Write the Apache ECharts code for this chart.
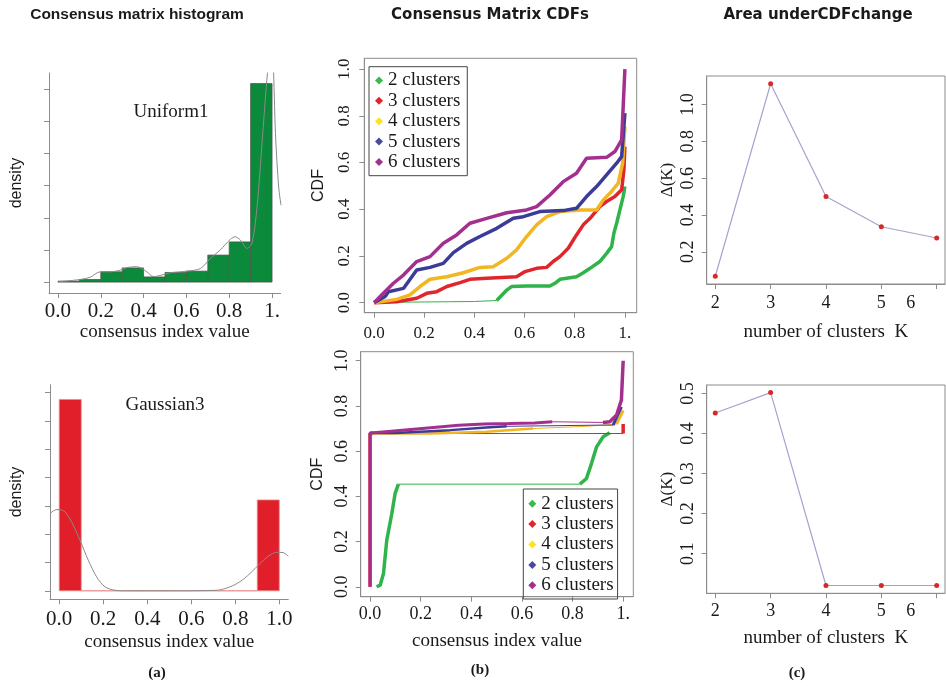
<!DOCTYPE html>
<html>
<head>
<meta charset="utf-8">
<script src="https://cdn.jsdelivr.net/npm/echarts@6/dist/echarts.min.js"></script>
<style>html,body{margin:0;background:#fff}#main{width:946px;height:686px}</style>
</head>
<body>
<div id="main"></div>
<script>
// ---- data ----
// histograms: [from, to, density]
let uniformBars = [[0.0,0.1,0.03],[0.1,0.2,0.08],[0.2,0.3,0.32],[0.3,0.4,0.44],[0.4,0.5,0.16],
  [0.5,0.6,0.30],[0.6,0.7,0.34],[0.7,0.8,0.84],[0.8,0.9,1.25],[0.9,1.0,6.18]];
let uniformDensity = [[0.0,0.01],[0.103,0.08],[0.15,0.15],[0.197,0.32],[0.243,0.32],[0.29,0.37],[0.321,0.45],
  [0.368,0.48],[0.415,0.32],[0.446,0.17],[0.485,0.22],[0.524,0.29],[0.602,0.34],[0.665,0.42],[0.711,0.73],
  [0.758,1.0],[0.805,1.33],[0.828,1.41],[0.852,1.31],[0.883,1.05],[0.906,1.2],[0.93,2.34],[0.953,4.31],
  [0.973,6.07],[0.984,6.9],[0.995,7.6],[1.005,6.9],[1.016,4.62],[1.031,2.96],[1.042,2.39]];
let gaussBars = [[0.0,0.1,6.76],[0.1,0.2,0],[0.2,0.3,0],[0.3,0.4,0],[0.4,0.5,0],
  [0.5,0.6,0],[0.6,0.7,0],[0.7,0.8,0],[0.8,0.9,0],[0.9,1.0,3.21]];
let gaussDensity = [[-0.042,2.73],[-0.02,2.85],[0.0,2.87],[0.026,2.79],[0.056,2.44],[0.094,1.79],[0.132,1.08],
  [0.17,0.49],[0.208,0.14],[0.253,0.02],[0.3,0],[0.5,0],[0.718,0.02],[0.776,0.14],[0.821,0.32],[0.867,0.61],
  [0.912,0.96],[0.95,1.22],[0.988,1.36],[1.018,1.35],[1.041,1.22]];

let clusterNames = ['2 clusters','3 clusters','4 clusters','5 clusters','6 clusters'];
let clusterColors = ['#2fb34a','#e0262c','#f3b623','#3b3b98','#a3308f'];
let legendColors = ['#3cb84c','#e0262c','#ffe21a','#4a4aa0','#a3308f'];

// CDFs, Uniform1 (thin = sparse part drawn as a thin line)
let uniK2thin = [[0,0],[0.1,0.002],[0.2,0.003],[0.3,0.004],[0.4,0.005],[0.489,0.009]];
let uniK2 = [[0.489,0.009],[0.529,0.054],[0.548,0.069],[0.608,0.071],[0.701,0.071],[0.721,0.083],[0.741,0.10],
  [0.807,0.111],[0.834,0.128],[0.861,0.147],[0.90,0.176],[0.927,0.211],[0.947,0.24],[0.956,0.297],
  [0.967,0.34],[0.98,0.397],[0.993,0.454],[1.0,0.497]];
let uniK3 = [[0,0],[0.09,0.004],[0.17,0.019],[0.21,0.04],[0.25,0.047],[0.29,0.069],[0.343,0.086],[0.382,0.10],
  [0.449,0.104],[0.568,0.111],[0.602,0.133],[0.648,0.147],[0.688,0.151],[0.714,0.176],[0.741,0.197],
  [0.774,0.233],[0.807,0.29],[0.834,0.333],[0.861,0.361],[0.90,0.411],[0.927,0.433],[0.96,0.454],
  [0.987,0.483],[0.996,0.568],[1.0,0.668]];
let uniK4 = [[0,0],[0.09,0.014],[0.143,0.033],[0.183,0.069],[0.223,0.10],[0.29,0.111],[0.356,0.128],
  [0.422,0.151],[0.475,0.154],[0.529,0.19],[0.568,0.226],[0.608,0.283],[0.648,0.333],[0.688,0.368],
  [0.741,0.39],[0.821,0.397],[0.887,0.397],[0.914,0.44],[0.94,0.468],[0.973,0.511],[0.991,0.597],[1.0,0.754]];
let uniK5 = [[0,0],[0.044,0.026],[0.057,0.047],[0.117,0.061],[0.17,0.14],[0.223,0.151],[0.276,0.168],
  [0.316,0.214],[0.369,0.254],[0.422,0.283],[0.489,0.318],[0.555,0.361],[0.595,0.368],[0.661,0.39],
  [0.754,0.394],[0.807,0.404],[0.847,0.454],[0.887,0.497],[0.927,0.547],[0.967,0.597],[0.987,0.625],[1.0,0.811]];
let uniK6 = [[0,0],[0.037,0.04],[0.077,0.083],[0.117,0.118],[0.17,0.176],[0.223,0.197],[0.276,0.254],
  [0.329,0.29],[0.382,0.34],[0.449,0.361],[0.529,0.385],[0.608,0.397],[0.648,0.411],[0.701,0.461],
  [0.754,0.518],[0.807,0.554],[0.847,0.618],[0.927,0.622],[0.96,0.647],[0.987,0.697],[1.0,1.0]];

// CDFs, Gaussian3
let gauK2 = [[0.026,0],[0.04,0.007],[0.053,0.059],[0.066,0.206],[0.086,0.324],[0.099,0.413],[0.112,0.454]];
let gauK2thin = [[0.112,0.454],[0.829,0.454]];
let gauK2b = [[0.829,0.454],[0.855,0.479],[0.875,0.546],[0.895,0.619],[0.921,0.664],[0.947,0.681]];
let gauK3thin = [[0,0.678],[1.0,0.678]];
let gauK3 = [[0,0],[0,0.678],[0.01,0.678]];
let gauK3b = [[1.0,0.678],[1.0,0.72]];
let gauK4 = [[0,0.678],[0.237,0.678],[0.46,0.686],[0.645,0.70]];
let gauK4thin = [[0.645,0.70],[0.855,0.71],[0.974,0.72]];
let gauK4b = [[0.974,0.72],[1.0,0.78]];
let gauK5 = [[0,0.68],[0.1,0.68],[0.316,0.693],[0.46,0.705],[0.54,0.71]];
let gauK5thin = [[0.54,0.71],[0.9,0.715],[0.96,0.715]];
let gauK5b = [[0.96,0.715],[0.993,0.796]];
let gauK6 = [[0,0],[0,0.68],[0.05,0.685],[0.15,0.695],[0.25,0.705],[0.35,0.715],[0.45,0.72],[0.55,0.722],
  [0.65,0.725],[0.72,0.73]];
let gauK6thin = [[0.72,0.73],[0.92,0.727]];
let gauK6b = [[0.92,0.727],[0.947,0.73],[0.974,0.76],[0.993,0.826],[1.0,1.0]];

// delta area
let kValues = [2,3,4,5,6];
let deltaUniform = [0.067,1.113,0.50,0.336,0.275];
let deltaGauss = [0.451,0.502,0.0205,0.0205,0.0205];

let unitTicks = [0,0.2,0.4,0.6,0.8,1.0];
let unitLabelsCut = ['0.0','0.2','0.4','0.6','0.8','1.'];
let unitLabels = ['0.0','0.2','0.4','0.6','0.8','1.0'];
let histTicksTop = [0,1,2,3,4,5,6];
let histTicksBottom = [0,1,2,3,4,5,6,7];
let deltaTicksTop = [0.2,0.4,0.6,0.8,1.0];
let deltaTicksBottom = [0.1,0.2,0.3,0.4,0.5];

const SERIF = 'Liberation Serif';
const AX = '#8c8c8c';

function pick(ticks, labels) {
  return function (v) {
    for (let i = 0; i < ticks.length; i++) if (Math.abs(ticks[i] - v) < 1e-6) return labels[i];
    return '';
  };
}

function axis(o) {
  let a = {
    gridIndex: o.grid, type: 'value', min: o.min, max: o.max,
    splitLine: {show: false},
    axisLine: {show: true, onZero: false, lineStyle: {color: AX, width: 1}},
    axisTick: {show: true, customValues: o.ticks, length: 5, lineStyle: {color: AX}},
    axisLabel: {show: o.labels != null, customValues: o.ticks, margin: o.margin,
      fontFamily: SERIF, fontSize: o.size, color: '#1a1a1a', rotate: o.rotate || 0,
      formatter: o.labels ? (o.fmt || pick(o.ticks, o.labels)) : null, rich: o.rich},
    name: o.name, nameLocation: 'middle', nameGap: o.gap,
    nameTextStyle: {fontFamily: o.nameFont || SERIF, fontSize: o.nameSize || 19, color: '#1a1a1a'}
  };
  return a;
}

function bars(params, api) {
  let p0 = api.coord([api.value(0), api.value(2)]);
  let p1 = api.coord([api.value(1), 0]);
  return {type: 'rect', shape: {x: p0[0], y: p0[1], width: p1[0] - p0[0], height: p1[1] - p0[1]},
    style: api.style()};
}

function cdf(name, idx, grid, data, width) {
  return {name: name, type: 'line', xAxisIndex: grid, yAxisIndex: grid, data: data,
    showSymbol: false, symbol: 'none', smooth: false, animation: false,
    lineStyle: {color: clusterColors[idx], width: width}, itemStyle: {color: clusterColors[idx]}};
}

function legendData() {
  return clusterNames.map(function (n, i) {
    return {name: n, icon: 'diamond', itemStyle: {color: legendColors[i]}};
  });
}

let legendBase = {orient: 'vertical', itemWidth: 8, itemHeight: 8, itemGap: 1, selectedMode: false,
  borderColor: '#444', borderWidth: 1,
  textStyle: {fontFamily: SERIF, fontSize: 19, color: '#1a1a1a', lineHeight: 19.4}};

function txt(x, y, s, font, size, weight) {
  return {type: 'text', x: x, y: y, style: {text: s, font: (weight || '') + ' ' + size + 'px "' + font + '"',
    fill: '#1a1a1a', textAlign: 'center', textVerticalAlign: 'middle'}};
}

let option = {
  animation: false,
  grid: [
    {left: 49, top: 73, width: 231.6, height: 220, outerBoundsMode: 'none'},
    {left: 50, top: 384.7, width: 238.3, height: 214.6, outerBoundsMode: 'none'},
    {left: 364.3, top: 58.3, width: 272.4, height: 254.4, show: true, borderColor: AX, borderWidth: 1, outerBoundsMode: 'none'},
    {left: 360.7, top: 351.7, width: 272.6, height: 245, show: true, borderColor: AX, borderWidth: 1, outerBoundsMode: 'none'},
    {left: 706.7, top: 76, width: 238.3, height: 208, show: true, borderColor: AX, borderWidth: 1, outerBoundsMode: 'none'},
    {left: 706.7, top: 385, width: 238.3, height: 208.3, show: true, borderColor: AX, borderWidth: 1, outerBoundsMode: 'none'}
  ],
  xAxis: [
    axis({grid: 0, min: -0.042, max: 1.04, ticks: unitTicks, labels: unitLabelsCut, size: 21, margin: 8,
      name: 'consensus index value', gap: 30}),
    axis({grid: 1, min: -0.042, max: 1.041, ticks: unitTicks, labels: unitLabels, size: 21, margin: 10,
      name: 'consensus index value', gap: 33}),
    axis({grid: 2, min: -0.039, max: 1.047, ticks: unitTicks, labels: unitLabelsCut, size: 17, margin: 12}),
    axis({grid: 3, min: -0.037, max: 1.04, ticks: unitTicks, labels: unitLabelsCut, size: 18, margin: 9,
      name: 'consensus index value', gap: 35}),
    axis({grid: 4, min: 1.845, max: 6.15, ticks: kValues, labels: kValues.map(String), size: 18, margin: 10,
      name: 'number of clusters  K', gap: 39,
      fmt: function (v) { return v === 6 ? '{s|6}' : String(v); }, rich: {s: {padding: [0, 52, 0, 0]}}}),
    axis({grid: 5, min: 1.845, max: 6.15, ticks: kValues, labels: kValues.map(String), size: 18, margin: 9,
      name: 'number of clusters  K', gap: 35,
      fmt: function (v) { return v === 6 ? '{s|6}' : String(v); }, rich: {s: {padding: [0, 52, 0, 0]}}})
  ],
  yAxis: [
    axis({grid: 0, min: -0.34, max: 6.51, ticks: histTicksTop, labels: null,
      name: 'density', gap: 24, nameFont: 'Liberation Sans', nameSize: 16}),
    axis({grid: 1, min: -0.30, max: 7.28, ticks: histTicksBottom, labels: null,
      name: 'density', gap: 25, nameFont: 'Liberation Sans', nameSize: 16}),
    axis({grid: 2, min: -0.043, max: 1.046, ticks: unitTicks, labels: unitLabels, size: 17, margin: 11, rotate: 90,
      name: 'CDF', gap: 38, nameFont: 'Liberation Sans', nameSize: 16}),
    axis({grid: 3, min: -0.044, max: 1.04, ticks: unitTicks, labels: unitLabels, size: 18, margin: 9, rotate: 90,
      name: 'CDF', gap: 35, nameFont: 'Liberation Sans', nameSize: 16}),
    axis({grid: 4, min: 0.025, max: 1.155, ticks: deltaTicksTop, labels: deltaTicksTop.map(function (v) { return v.toFixed(1); }),
      size: 18, margin: 9, rotate: 90, name: 'Δ(K)', gap: 31, nameSize: 17}),
    axis({grid: 5, min: 0.001, max: 0.521, ticks: deltaTicksBottom, labels: deltaTicksBottom.map(function (v) { return v.toFixed(1); }),
      size: 18, margin: 9, rotate: 90, name: 'Δ(K)', gap: 31, nameSize: 17})
  ],
  legend: [
    Object.assign({}, legendBase, {left: 369, top: 66.7, padding: [4, 7, 4, 6], data: legendData()}),
    Object.assign({}, legendBase, {left: 523.3, top: 489, padding: [5, 4, 4, 5], data: legendData()})
  ],
  graphic: [
    txt(137, 15, 'Consensus matrix histogram', 'Liberation Sans', 15.5, 'bold'),
    txt(490, 15, 'Consensus Matrix CDFs', 'DejaVu Sans', 15, 'bold'),
    txt(818, 15, 'Area underCDFchange', 'DejaVu Sans', 15, 'bold'),
    txt(171, 112, 'Uniform1', SERIF, 19),
    txt(165, 405, 'Gaussian3', SERIF, 19),
    txt(157, 673, '(a)', SERIF, 15, 'bold'),
    txt(480, 670, '(b)', SERIF, 15, 'bold'),
    txt(797, 673, '(c)', SERIF, 15, 'bold')
  ],
  series: [
    {type: 'custom', xAxisIndex: 0, yAxisIndex: 0, renderItem: bars, data: uniformBars,
      encode: {x: [0, 1], y: 2}, itemStyle: {color: '#0b8a3b', borderColor: '#4a5a4a', borderWidth: 0.8}},
    {type: 'line', xAxisIndex: 0, yAxisIndex: 0, data: uniformDensity, smooth: 0.3, showSymbol: false,
      lineStyle: {color: '#8a8a8a', width: 1}},
    {type: 'custom', xAxisIndex: 1, yAxisIndex: 1, renderItem: bars, data: gaussBars,
      encode: {x: [0, 1], y: 2}, itemStyle: {color: '#e11f2b', borderColor: '#e88a8a', borderWidth: 0.8}},
    {type: 'line', xAxisIndex: 1, yAxisIndex: 1, data: gaussDensity, smooth: 0.3, showSymbol: false,
      lineStyle: {color: '#8a8a8a', width: 1}},

    cdf('2 clusters', 0, 2, uniK2thin, 1),
    cdf('2 clusters', 0, 2, uniK2, 3.5),
    cdf('3 clusters', 1, 2, uniK3, 3.5),
    cdf('4 clusters', 2, 2, uniK4, 3.5),
    cdf('5 clusters', 3, 2, uniK5, 3.5),
    cdf('6 clusters', 4, 2, uniK6, 3.5),

    cdf('2 clusters', 0, 3, gauK2, 3.5),
    cdf('2 clusters', 0, 3, gauK2thin, 1),
    cdf('2 clusters', 0, 3, gauK2b, 3.5),
    cdf('3 clusters', 1, 3, gauK3thin, 1),
    cdf('3 clusters', 1, 3, gauK3, 3.5),
    cdf('3 clusters', 1, 3, gauK3b, 3.5),
    cdf('4 clusters', 2, 3, gauK4, 2.5),
    cdf('4 clusters', 2, 3, gauK4thin, 1),
    cdf('4 clusters', 2, 3, gauK4b, 3),
    cdf('5 clusters', 3, 3, gauK5, 2.5),
    cdf('5 clusters', 3, 3, gauK5thin, 1),
    cdf('5 clusters', 3, 3, gauK5b, 3),
    cdf('6 clusters', 4, 3, gauK6, 3),
    cdf('6 clusters', 4, 3, gauK6thin, 1),
    cdf('6 clusters', 4, 3, gauK6b, 3.5),

    {type: 'line', xAxisIndex: 4, yAxisIndex: 4, data: kValues.map(function (k, i) { return [k, deltaUniform[i]]; }),
      symbol: 'circle', symbolSize: 5, lineStyle: {color: '#a3a3cf', width: 1.2},
      itemStyle: {color: '#d42a2a', borderWidth: 0}},
    {type: 'line', xAxisIndex: 5, yAxisIndex: 5, data: kValues.map(function (k, i) { return [k, deltaGauss[i]]; }),
      symbol: 'circle', symbolSize: 5, lineStyle: {color: '#a3a3cf', width: 1.2},
      itemStyle: {color: '#d42a2a', borderWidth: 0}}
  ]
};

let myChart = echarts.init(document.getElementById('main'));
myChart.setOption(option);
</script>
</body>
</html>
